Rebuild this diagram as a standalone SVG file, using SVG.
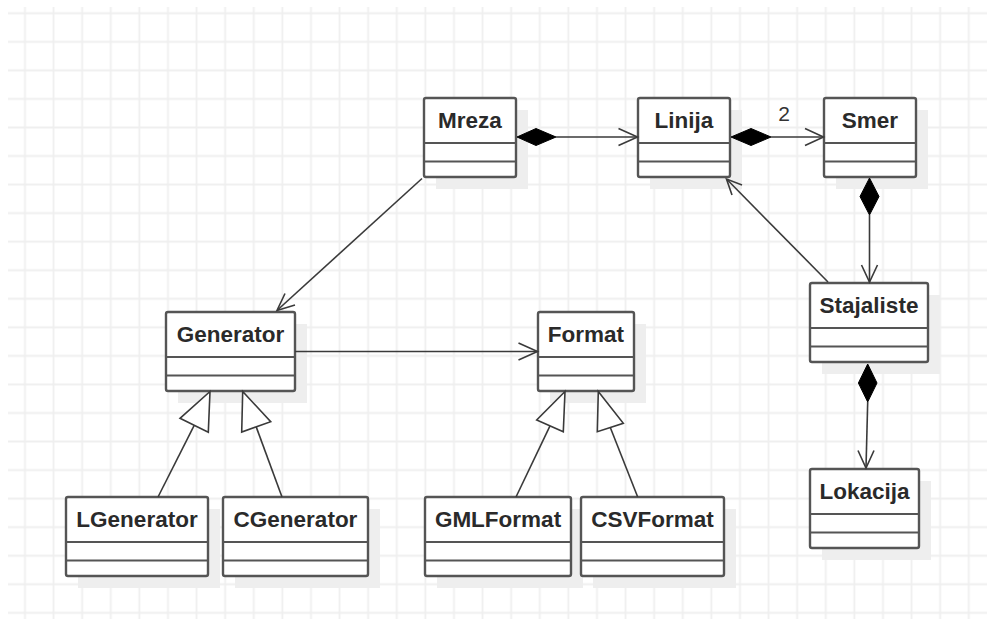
<svg xmlns="http://www.w3.org/2000/svg" width="987" height="619" viewBox="0 0 987 619">
  <defs>
    <pattern id="grid" patternUnits="userSpaceOnUse" x="10.7" y="-1" width="28.6" height="28.55">
      <path d="M14.3 0V28.55M0 14.3H28.6" stroke="#efefef" stroke-width="1.8" fill="none"/>
    </pattern>
    <style>
      .shadow { fill: #eeeeee; }
      .box { fill: #ffffff; stroke: #555555; stroke-width: 2.4; }
      .sep { stroke: #555555; stroke-width: 2.2; }
      .title { font-family: "Liberation Sans", Arial, sans-serif; font-weight: bold; font-size: 22.5px; fill: #2a2a2a; text-anchor: middle; }
      .label { font-family: "Liberation Sans", Arial, sans-serif; font-size: 21px; fill: #333333; text-anchor: middle; }
      .edge { stroke: #3a3a3a; stroke-width: 1.6; fill: none; }
      .open { stroke: #3a3a3a; stroke-width: 1.6; fill: none; stroke-linejoin: miter; }
      .diamond { fill: #000000; stroke: #000000; stroke-width: 1; }
      .triangle { fill: #ffffff; stroke: #3a3a3a; stroke-width: 1.6; }
    </style>
  </defs>

  <rect width="987" height="619" fill="#ffffff"/>
  <rect x="8" y="7" width="979" height="612" fill="url(#grid)"/>

  <!-- class boxes: shadow, body, compartment separators, name -->
  <g id="Mreza">
    <rect class="shadow" x="436" y="110" width="92" height="79"/>
    <rect class="box" x="424" y="98" width="92" height="79" rx="2"/>
    <path class="sep" d="M424 143H516M424 161.5H516"/>
    <text class="title" x="470" y="128">Mreza</text>
  </g>
  <g id="Linija">
    <rect class="shadow" x="650" y="110" width="92" height="79"/>
    <rect class="box" x="638" y="98" width="92" height="79" rx="2"/>
    <path class="sep" d="M638 143H730M638 161.5H730"/>
    <text class="title" x="684" y="128">Linija</text>
  </g>
  <g id="Smer">
    <rect class="shadow" x="836" y="110" width="92" height="79"/>
    <rect class="box" x="824" y="98" width="92" height="79" rx="2"/>
    <path class="sep" d="M824 143H916M824 161.5H916"/>
    <text class="title" x="870" y="128">Smer</text>
  </g>
  <g id="Generator">
    <rect class="shadow" x="178" y="324" width="129" height="79"/>
    <rect class="box" x="166" y="312" width="129" height="79" rx="2"/>
    <path class="sep" d="M166 357H295M166 375.5H295"/>
    <text class="title" x="230.5" y="342">Generator</text>
  </g>
  <g id="Format">
    <rect class="shadow" x="550" y="324" width="96" height="79"/>
    <rect class="box" x="538" y="312" width="96" height="79" rx="2"/>
    <path class="sep" d="M538 357H634M538 375.5H634"/>
    <text class="title" x="586" y="342">Format</text>
  </g>
  <g id="Stajaliste">
    <rect class="shadow" x="822" y="295" width="118" height="79"/>
    <rect class="box" x="810" y="283" width="118" height="79" rx="2"/>
    <path class="sep" d="M810 328H928M810 346.5H928"/>
    <text class="title" x="869" y="313">Stajaliste</text>
  </g>
  <g id="Lokacija">
    <rect class="shadow" x="822" y="481" width="109" height="79"/>
    <rect class="box" x="810" y="469" width="109" height="79" rx="2"/>
    <path class="sep" d="M810 514H919M810 532.5H919"/>
    <text class="title" x="864.5" y="499">Lokacija</text>
  </g>
  <g id="LGenerator">
    <rect class="shadow" x="78" y="509" width="142" height="79"/>
    <rect class="box" x="66" y="497" width="142" height="79" rx="2"/>
    <path class="sep" d="M66 542H208M66 560.5H208"/>
    <text class="title" x="137" y="527">LGenerator</text>
  </g>
  <g id="CGenerator">
    <rect class="shadow" x="235" y="509" width="145" height="79"/>
    <rect class="box" x="223" y="497" width="145" height="79" rx="2"/>
    <path class="sep" d="M223 542H368M223 560.5H368"/>
    <text class="title" x="295.5" y="527">CGenerator</text>
  </g>
  <g id="GMLFormat">
    <rect class="shadow" x="437" y="509" width="146" height="79"/>
    <rect class="box" x="425" y="497" width="146" height="79" rx="2"/>
    <path class="sep" d="M425 542H571M425 560.5H571"/>
    <text class="title" x="498" y="527">GMLFormat</text>
  </g>
  <g id="CSVFormat">
    <rect class="shadow" x="593" y="509" width="143" height="79"/>
    <rect class="box" x="581" y="497" width="143" height="79" rx="2"/>
    <path class="sep" d="M581 542H724M581 560.5H724"/>
    <text class="title" x="652.5" y="527">CSVFormat</text>
  </g>

  <g id="connectors">
    <!-- Mreza composes Linija -->
    <path class="edge" d="M556 137H637"/>
    <polygon class="diamond" points="517,137 536,128.5 556,137 536,145.5"/>
    <path class="open" d="M618.5 128.5L637.5 137L618.5 145.5"/>

    <!-- Linija composes Smer, multiplicity 2 -->
    <path class="edge" d="M771 137H823"/>
    <polygon class="diamond" points="731,137 751,128.5 771,137 751,145.5"/>
    <path class="open" d="M805 128.5L823.5 137L805 145.5"/>
    <text class="label" x="784" y="121">2</text>

    <!-- Smer composes Stajaliste -->
    <path class="edge" d="M869.5 215V282"/>
    <polygon class="diamond" points="869.5,178 879,196.5 869.5,215 860,196.5"/>
    <path class="open" d="M861.5 265L869.5 282L877.5 265"/>

    <!-- Stajaliste composes Lokacija -->
    <path class="edge" d="M867.7 402L866 468"/>
    <polygon class="diamond" points="867.7,364 877,383 867.7,402 858.4,383"/>
    <path class="open" d="M858 450.5L866 468L874 450.5"/>

    <!-- Stajaliste to Linija -->
    <path class="edge" d="M828 282L727 179.5"/>
    <path class="open" d="M742 185L726.5 179L732 195"/>

    <!-- Mreza to Generator -->
    <path class="edge" d="M422 178.5L277.5 310"/>
    <path class="open" d="M285 293.5L277 310.5L295 305"/>

    <!-- Generator to Format -->
    <path class="edge" d="M295 351.5H537"/>
    <path class="open" d="M518.5 343L537.5 351.5L518.5 360"/>

    <!-- generalizations -->
    <path class="edge" d="M158 497L194.2 425.3"/>
    <polygon class="triangle" points="210,391.5 180,418.3 208.3,432.3"/>
    <path class="edge" d="M282 497L256.2 426.9"/>
    <polygon class="triangle" points="242.7,391.5 241.7,432 270.7,421.7"/>
    <path class="edge" d="M516 497L550 425.9"/>
    <polygon class="triangle" points="565,391.5 536.7,420 563.3,431.7"/>
    <path class="edge" d="M637.7 497L610.3 427.5"/>
    <polygon class="triangle" points="598.3,391.5 597.3,431.7 623.3,423.3"/>
  </g>
</svg>
